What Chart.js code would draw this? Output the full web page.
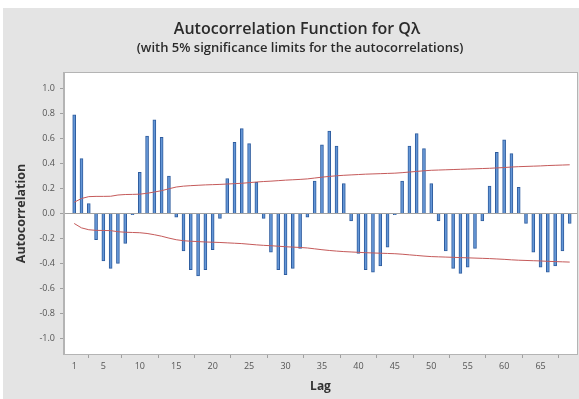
<!DOCTYPE html>
<html><head><meta charset="utf-8">
<script src="https://cdn.jsdelivr.net/npm/chart.js@4.4.1/dist/chart.umd.min.js"></script>
<style>
html,body{margin:0;padding:0;background:#fff;}
#wrap{position:relative;width:579px;height:399px;}
canvas{display:block;}
</style></head><body>
<div id="wrap"><canvas id="c" width="579" height="399"></canvas></div>
<script>
const lags = [1,2,3,4,5,6,7,8,9,10,11,12,13,14,15,16,17,18,19,20,21,22,23,24,25,26,27,28,29,30,31,32,33,34,35,36,37,38,39,40,41,42,43,44,45,46,47,48,49,50,51,52,53,54,55,56,57,58,59,60,61,62,63,64,65,66,67,68,69];
const acf = [0.79,0.44,0.08,-0.21,-0.38,-0.44,-0.40,-0.24,-0.01,0.33,0.62,0.75,0.61,0.30,-0.03,-0.30,-0.45,-0.50,-0.45,-0.29,-0.04,0.28,0.57,0.68,0.56,0.25,-0.04,-0.31,-0.45,-0.49,-0.44,-0.28,-0.03,0.26,0.55,0.66,0.54,0.24,-0.06,-0.32,-0.45,-0.47,-0.42,-0.27,-0.01,0.26,0.54,0.64,0.52,0.24,-0.06,-0.30,-0.44,-0.48,-0.43,-0.28,-0.06,0.22,0.49,0.59,0.48,0.21,-0.08,-0.31,-0.43,-0.47,-0.42,-0.30,-0.08];
const upperLimit = [0.09,0.12,0.135,0.137,0.137,0.138,0.148,0.152,0.153,0.155,0.162,0.172,0.183,0.198,0.212,0.219,0.223,0.226,0.229,0.231,0.233,0.236,0.239,0.242,0.247,0.252,0.256,0.259,0.263,0.267,0.270,0.273,0.277,0.284,0.291,0.297,0.302,0.306,0.309,0.312,0.315,0.317,0.319,0.321,0.323,0.327,0.332,0.337,0.342,0.346,0.348,0.350,0.352,0.354,0.356,0.358,0.360,0.362,0.365,0.368,0.372,0.375,0.377,0.379,0.381,0.384,0.386,0.388,0.390];
const lowerLimit = [-0.08,-0.115,-0.13,-0.135,-0.136,-0.137,-0.146,-0.15,-0.152,-0.154,-0.16,-0.17,-0.182,-0.197,-0.21,-0.218,-0.222,-0.225,-0.228,-0.23,-0.232,-0.235,-0.238,-0.241,-0.246,-0.251,-0.255,-0.258,-0.262,-0.266,-0.269,-0.272,-0.276,-0.283,-0.29,-0.296,-0.301,-0.305,-0.308,-0.311,-0.314,-0.316,-0.318,-0.32,-0.322,-0.326,-0.331,-0.336,-0.341,-0.345,-0.347,-0.349,-0.351,-0.353,-0.355,-0.357,-0.359,-0.361,-0.364,-0.367,-0.371,-0.374,-0.376,-0.378,-0.38,-0.383,-0.385,-0.387,-0.389];
const xTicks = [1,5,10,15,20,25,30,35,40,45,50,55,60,65];
const yTicks = [-1.0,-0.8,-0.6,-0.4,-0.2,0.0,0.2,0.4,0.6,0.8,1.0];
const titleText = 'Autocorrelation Function for Qλ';
const subtitleText = '(with 5% significance limits for the autocorrelations)';
const xTitle = 'Lag';
const yTitle = 'Autocorrelation';

const FAM = "'Open Sans','Noto Sans',sans-serif";

const decor = {
  id: 'decor',
  beforeDraw(chart) {
    const ctx = chart.ctx, a = chart.chartArea;
    ctx.save();
    ctx.fillStyle = '#ffffff';
    ctx.fillRect(0, 0, chart.width, chart.height);
    ctx.fillStyle = '#e4e4e4';
    ctx.fillRect(3, 8, chart.width - 3, chart.height - 8);
    ctx.fillStyle = '#ffffff';
    ctx.fillRect(a.left, a.top, a.right - a.left, a.bottom - a.top);
    ctx.restore();
  },
  afterDraw(chart) {
    const ctx = chart.ctx, a = chart.chartArea;
    ctx.save();
    ctx.strokeStyle = '#b4b4b4';
    ctx.lineWidth = 1;
    ctx.strokeRect(a.left - 0.5, a.top - 0.5, a.right - a.left + 1, a.bottom - a.top + 1);
    ctx.fillStyle = '#2b2b2b';
    ctx.textAlign = 'center';
    ctx.textBaseline = 'middle';
    ctx.font = "600 16px " + FAM;
    ctx.fillText(titleText, 297, 29);
    ctx.font = "600 13px " + FAM;
    ctx.fillText(subtitleText, 300, 48);
    ctx.restore();
  }
};

new Chart(document.getElementById('c'), {
  data: {
    datasets: [
      { type: 'line', data: lags.map((l, i) => ({x: l, y: upperLimit[i]})), borderColor: '#c55a5a', borderWidth: 1, pointRadius: 0, tension: 0, order: 1 },
      { type: 'line', data: lags.map((l, i) => ({x: l, y: lowerLimit[i]})), borderColor: '#c55a5a', borderWidth: 1, pointRadius: 0, tension: 0, order: 1 },
      { type: 'bar', data: lags.map((l, i) => ({x: l, y: acf[i]})), backgroundColor: '#6496d6', borderColor: '#2e5c9e', borderWidth: 1, barThickness: 3, order: 2 }
    ]
  },
  options: {
    responsive: false,
    animation: false,
    devicePixelRatio: 1,
    layout: { padding: { top: 73, right: 2, left: 0, bottom: 0 } },
    plugins: { legend: { display: false }, tooltip: { enabled: false }, title: { display: false } },
    scales: {
      x: {
        type: 'linear', position: 'bottom', min: -0.4, max: 70, offset: false,
        afterBuildTicks: s => { s.ticks = xTicks.map(v => ({value: v})); },
        afterFit: s => { s.height = 45; },
        ticks: { autoSkip: false, maxRotation: 0, font: { size: 9, family: FAM }, color: '#555', padding: 3 },
        grid: { drawOnChartArea: false, drawTicks: true, tickLength: 4, tickColor: '#a0a0a0' },
        border: { display: true, color: '#b4b4b4' },
        title: { display: true, text: xTitle, font: { size: 12, weight: 'bold', family: FAM }, color: '#333', padding: { top: 0, bottom: 5 } }
      },
      y: {
        type: 'linear', min: -1.125, max: 1.125,
        afterBuildTicks: s => { s.ticks = yTicks.map(v => ({value: v})); },
        afterFit: s => { s.width = 64; },
        ticks: { callback: v => Number(v).toFixed(1), font: { size: 9, family: FAM }, color: '#555', padding: 5 },
        grid: { drawOnChartArea: true, drawTicks: true, tickLength: 4, tickColor: '#a0a0a0',
                color: c => (c.tick && Math.abs(c.tick.value) < 1e-9) ? '#a0a0a0' : 'rgba(0,0,0,0)' },
        border: { display: true, color: '#b4b4b4' },
        title: { display: true, text: yTitle, font: { size: 12.5, weight: 'bold', family: FAM }, color: '#333', padding: { top: 14, bottom: 0 } }
      }
    }
  },
  plugins: [decor]
});
</script>
</body></html>
